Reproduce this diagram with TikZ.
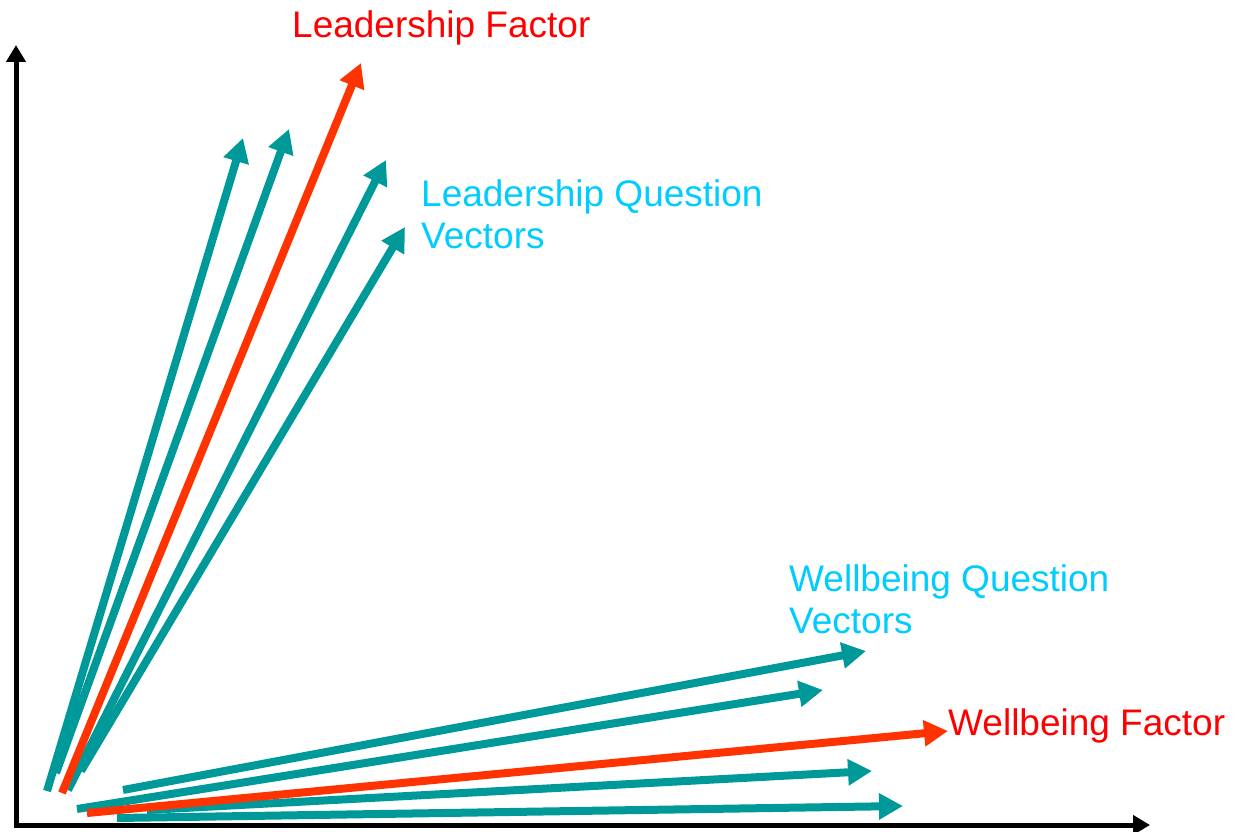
\documentclass[tikz,border=0pt]{standalone}
\usepackage{fontspec}
\setmainfont{Liberation Sans}
\usetikzlibrary{arrows.meta}
\definecolor{qteal}{RGB}{0,153,153}
\definecolor{factorred}{RGB}{255,51,0}
\definecolor{labelred}{RGB}{255,0,0}
\definecolor{labelcyan}{RGB}{0,204,255}
\tikzset{
  axisline/.style={line width=5, -{Triangle[length=17,width=19]}},
  qvec/.style={qteal, line width=8, -{Triangle[length=24,width=25]}},
  fvec/.style={factorred, line width=8, -{Triangle[length=24,width=25]}},
  lbl/.style={anchor=base west, inner sep=0, font=\fontsize{37}{42}\selectfont, align=left},
}
\begin{document}
\begin{tikzpicture}[x=1pt,y=-1pt]
\useasboundingbox (0,0) rectangle (1237,832);

% axes
\coordinate (O) at (16,825);
\coordinate (ytop) at (16,45);
\coordinate (xend) at (1150,825);
\draw[axisline] (16,827.5) -- (ytop);
\draw[axisline] (13.5,825) -- (xend);

% leadership question vectors
\coordinate (l1s) at (47,791);   \coordinate (l1e) at (243,138);
\coordinate (l2s) at (56,773);   \coordinate (l2e) at (289,129);
\coordinate (l3s) at (68,790);   \coordinate (l3e) at (386,160);
\coordinate (l4s) at (81,771);   \coordinate (l4e) at (405,227);
\draw[qvec] (l1s) -- (l1e);
\draw[qvec] (l2s) -- (l2e);
\draw[qvec] (l3s) -- (l3e);
\draw[qvec] (l4s) -- (l4e);

% leadership factor
\coordinate (lfs) at (62,793);   \coordinate (lfe) at (361,63);
\draw[fvec] (lfs) -- (lfe);

% wellbeing question vectors
\coordinate (w1s) at (123,790);  \coordinate (w1e) at (866,651);
\coordinate (w2s) at (77,809);   \coordinate (w2e) at (823,690);
\coordinate (w3s) at (147,810);  \coordinate (w3e) at (872,771);
\coordinate (w4s) at (117,818);  \coordinate (w4e) at (903,806);
\draw[qvec] (w1s) -- (w1e);
\draw[qvec] (w2s) -- (w2e);
\draw[qvec] (w4s) -- (w4e);
\draw[qvec] (w3s) -- (w3e);

% wellbeing factor
\coordinate (wfs) at (87,813);   \coordinate (wfe) at (948,731);
\draw[fvec] (wfs) -- (wfe);

% labels (two-line labels are placed by the baseline of their last line)
\node[lbl, text=labelred] (lfl) at (292,38) {Leadership Factor};
\node[lbl, text=labelcyan] (lql) at (421,248) {Leadership Question\\Vectors};
\node[lbl, text=labelcyan] (wql) at (789,633) {Wellbeing Question\\Vectors};
\node[lbl, text=labelred] (wfl) at (948,735) {Wellbeing Factor};
\end{tikzpicture}
\end{document}
